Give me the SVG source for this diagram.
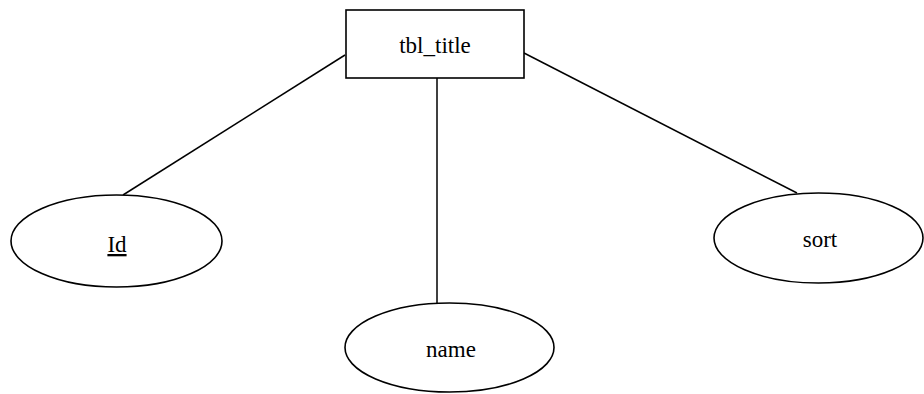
<svg xmlns="http://www.w3.org/2000/svg" width="924" height="394" viewBox="0 0 924 394">
<style>
.shape{fill:#fff;stroke:#000;stroke-width:1.6}
.conn line{stroke:#000;stroke-width:1.5}
text{font-family:"Liberation Serif","Times New Roman",serif;font-size:23px;fill:#000;text-anchor:middle}
</style>
<rect width="924" height="394" fill="#fff"/>
<g id="connectors" class="conn">
<line x1="345" y1="55" x2="123" y2="195"/>
<line x1="437" y1="78" x2="437" y2="303"/>
<line x1="524" y1="53" x2="797" y2="193"/>
</g>
<g id="tbl_title">
<rect class="shape" x="346" y="10" width="178" height="68"/>
<text x="435" y="53">tbl_title</text>
</g>
<g id="Id">
<ellipse class="shape" cx="116.5" cy="241" rx="105.5" ry="46"/>
<text x="117" y="252" text-decoration="underline">Id</text>
</g>
<g id="name">
<ellipse class="shape" cx="449.5" cy="347.5" rx="104.5" ry="44.5"/>
<text x="451" y="357">name</text>
</g>
<g id="sort">
<ellipse class="shape" cx="818.5" cy="238" rx="104.5" ry="45"/>
<text x="820" y="247">sort</text>
</g>
</svg>
